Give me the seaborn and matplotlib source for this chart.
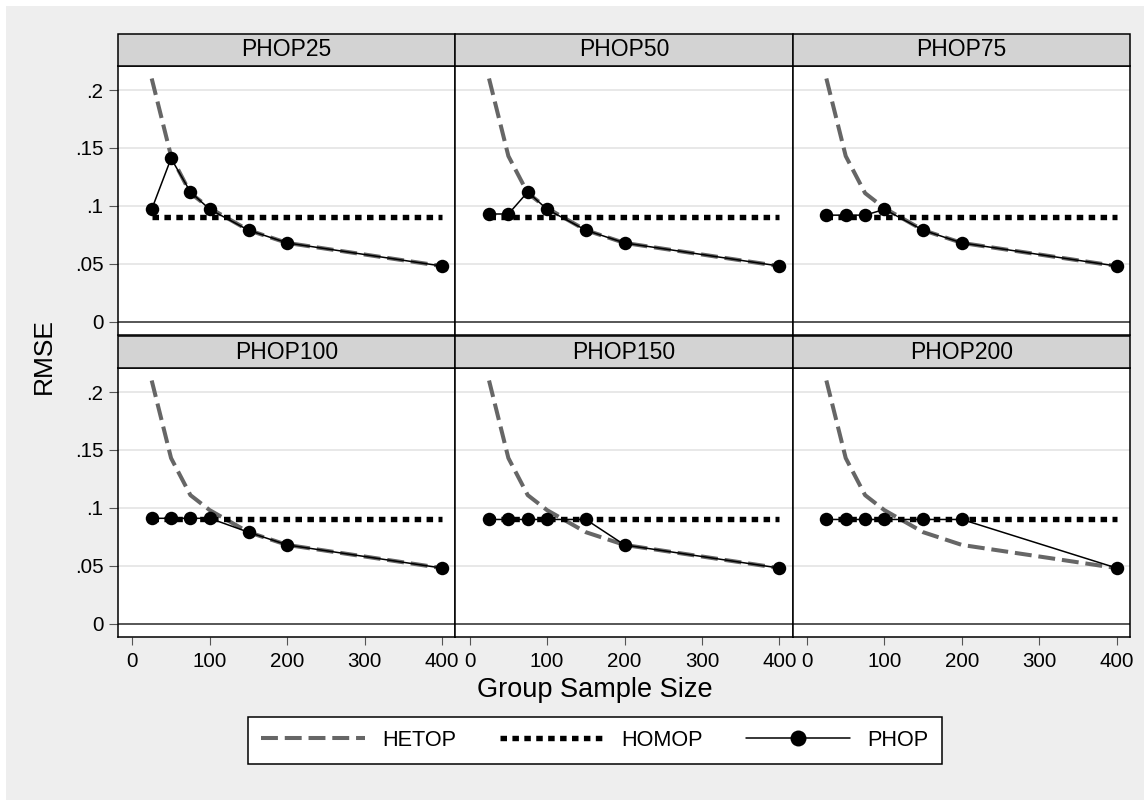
import matplotlib
matplotlib.use("Agg")
import matplotlib.pyplot as plt
from matplotlib.lines import Line2D
from matplotlib.patches import Rectangle
import seaborn as sns
import pandas as pd

# values
sizes = [25, 50, 75, 100, 150, 200, 400]
hetop = [0.210, 0.143, 0.111, 0.098, 0.079, 0.068, 0.048]
homop = [0.090, 0.090, 0.090, 0.090, 0.090, 0.090, 0.090]

panels = ["PHOP25", "PHOP50", "PHOP75", "PHOP100", "PHOP150", "PHOP200"]
phop25 = [0.097, 0.141, 0.112, 0.097, 0.079, 0.068, 0.048]
phop50 = [0.093, 0.093, 0.112, 0.097, 0.079, 0.068, 0.048]
phop75 = [0.092, 0.092, 0.092, 0.097, 0.079, 0.068, 0.048]
phop100 = [0.091, 0.091, 0.091, 0.091, 0.079, 0.068, 0.048]
phop150 = [0.090, 0.090, 0.090, 0.090, 0.090, 0.068, 0.048]
phop200 = [0.090, 0.090, 0.090, 0.090, 0.090, 0.090, 0.048]

yticks = [0, 0.05, 0.1, 0.15, 0.2]
ytick_labels = ["0", ".05", ".1", ".15", ".2"]
xticks = [0, 100, 200, 300, 400]

phop = dict(zip(panels, [phop25, phop50, phop75, phop100, phop150, phop200]))
rows = []
for p in panels:
    for i, n in enumerate(sizes):
        rows.append({"panel": p, "n": n, "HETOP": hetop[i], "HOMOP": homop[i], "PHOP": phop[p][i]})
df = pd.DataFrame(rows)

sns.set_style("white")
plt.rcParams["font.family"] = ["Liberation Sans", "DejaVu Sans"]
plt.rcParams["text.color"] = "black"
plt.rcParams["xtick.labelcolor"] = "black"
plt.rcParams["ytick.labelcolor"] = "black"

W, H = 1144, 800
hetop_style = dict(color="#666666", lw=2.9, linestyle=(0, (4.2, 1.7)))
homop_style = dict(color="black", lw=3.9, linestyle=(0, (1.2, 1.0)))
phop_style = dict(color="black", lw=1.1, marker="o", markersize=9.7, markeredgewidth=0)

g = sns.FacetGrid(df, col="panel", col_wrap=3, col_order=panels,
                  sharex=True, sharey=True, despine=False, height=3, aspect=1.2)
fig = g.figure
fig.set_size_inches(W / 100, H / 100)
fig.set_facecolor("white")
fig.patches.append(Rectangle((6 / W, 0), 1, 1 - 6 / H, transform=fig.transFigure,
                             facecolor="#eeeeee", edgecolor="none", zorder=-10))
fig.subplots_adjust(left=118 / W, right=1130 / W, bottom=1 - 637 / H, top=1 - 66 / H,
                    wspace=0, hspace=33 / 269)
g.set_titles("")
g.set_axis_labels("", "")

for i, (name, ax) in enumerate(g.axes_dict.items()):
    sub = df[df["panel"] == name]
    ax.set_facecolor("white")
    ax.grid(False)
    for yv in yticks[1:]:
        ax.axhline(yv, color="#e4e4e4", lw=1.2, zorder=0)
    ax.axhline(0, color="#3a3a3a", lw=1.2, zorder=1)
    sns.lineplot(data=sub, x="n", y="HETOP", ax=ax, **hetop_style)
    sns.lineplot(data=sub, x="n", y="HOMOP", ax=ax, **homop_style)
    sns.lineplot(data=sub, x="n", y="PHOP", ax=ax, **phop_style)
    ax.set_xlim(-18.5, 417)
    ax.set_ylim(-0.0115, 0.2208)
    ax.set_xticks(xticks)
    ax.set_xticklabels([str(v) for v in xticks])
    ax.set_yticks(yticks)
    ax.set_yticklabels(ytick_labels)
    ax.set_xlabel("")
    ax.set_ylabel("")
    for s in ax.spines.values():
        s.set_color("black")
        s.set_linewidth(1.1)
    left = i % 3 == 0
    bottom = i >= 3
    ax.tick_params(axis="y", left=left, labelleft=left, length=6.5, width=0.8,
                   color="#555555", pad=4, labelsize=14.8)
    ax.tick_params(axis="x", bottom=bottom, labelbottom=bottom, length=5.8, width=0.8,
                   color="#555555", pad=5, labelsize=14.8)
    # panel header strip
    hh = 32 / 269
    ax.add_patch(Rectangle((0, 1), 1, hh, transform=ax.transAxes, facecolor="#d3d3d3",
                           edgecolor="black", lw=1.1, clip_on=False, zorder=5))
    ax.text(0.5, 1 + hh / 2, name, transform=ax.transAxes, ha="center", va="center",
            fontsize=16.5, zorder=6)

fig.text(595 / W, 1 - 690 / H, "Group Sample Size", ha="center", va="center", fontsize=19.5)
fig.text(43.5 / W, 1 - 356 / H, "RMSE", rotation=90, ha="center", va="center", fontsize=19)

handles = [Line2D([], [], **hetop_style),
           Line2D([], [], **homop_style),
           Line2D([], [], color="black", lw=1.1, marker="o", markersize=11.5, markeredgewidth=0)]
leg = fig.legend(handles, ["HETOP", "HOMOP", "PHOP"], loc="center",
                 bbox_to_anchor=(595 / W, 1 - 740.5 / H), ncol=3, frameon=True,
                 fancybox=False, edgecolor="black", facecolor="white", framealpha=1,
                 fontsize=15.6, handlelength=4.8, handletextpad=0.8, columnspacing=2.0,
                 borderpad=0.6, numpoints=1)
leg.get_frame().set_linewidth(1.1)

fig.savefig("out.png", dpi=100, facecolor=fig.get_facecolor())
